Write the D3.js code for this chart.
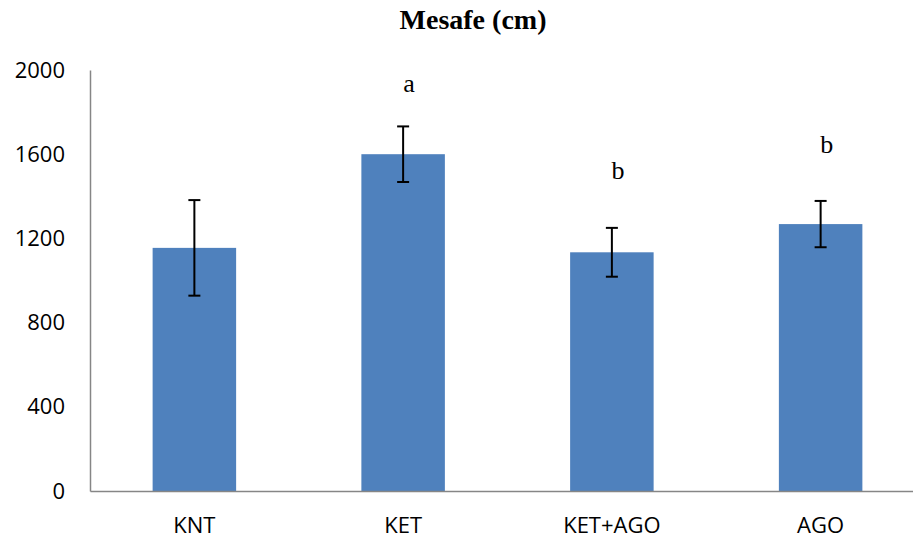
<!DOCTYPE html>
<html>
<head>
<meta charset="utf-8">
<script src="https://cdn.jsdelivr.net/npm/d3@7"></script>
<style>
  body { margin: 0; background: #fff; }
  svg { display: block; }
</style>
</head>
<body>
<div id="chart"></div>
<script>
var categories = ["KNT", "KET", "KET+AGO", "AGO"];
var means = [1155, 1600, 1134, 1268];
var errors = [227, 132, 116, 110];
var letters = ["", "a", "b", "b"];
var letterAt = [null, 1897, 1481, 1604];
var yTicks = [0, 400, 800, 1200, 1600, 2000];

var width = 913,
  height = 540;

var svg = d3.select("#chart").append("svg")
  .attr("width", width)
  .attr("height", height);

var x = d3.scaleBand()
  .domain(categories)
  .range([90, 925])
  .paddingInner(0.6)
  .paddingOuter(0.3);

var y = d3.scaleLinear()
  .domain([0, 2000])
  .range([491, 70]);

var data = categories.map(function(c, i) {
  return {name: c, mean: means[i], err: errors[i], letter: letters[i], at: letterAt[i]};
});

// title
svg.append("text")
  .attr("x", 473)
  .attr("y", 29)
  .attr("text-anchor", "middle")
  .style("font-family", "'Liberation Serif', 'Times New Roman', serif")
  .style("font-weight", "bold")
  .style("font-size", "28px")
  .text("Mesafe (cm)");

// bars
svg.selectAll("rect.bar")
  .data(data)
  .enter()
  .append("rect")
  .attr("class", "bar")
  .attr("x", function(d) { return x(d.name); })
  .attr("y", function(d) { return y(d.mean); })
  .attr("width", x.bandwidth())
  .attr("height", function(d) { return y(0) - y(d.mean); })
  .style("fill", "#4f81bd");

// axes
var yAxis = d3.axisLeft(y).tickValues(yTicks).tickFormat(d3.format("d")).tickSize(0).tickPadding(25);
var gy = svg.append("g").attr("transform", "translate(90,0)").call(yAxis);
gy.select(".domain").attr("stroke", "#868686").attr("stroke-width", 1.5);
gy.selectAll("text")
  .style("font-family", "'Open Sans', sans-serif")
  .style("font-size", "22px")
  .attr("fill", "#000");

var xAxis = d3.axisBottom(x).tickSize(0).tickPadding(26);
var gx = svg.append("g").attr("transform", "translate(0,491)").call(xAxis);
gx.select(".domain").attr("stroke", "#868686").attr("stroke-width", 1.5);
gx.selectAll("text")
  .style("font-family", "'Open Sans', sans-serif")
  .style("font-size", "22px")
  .attr("fill", "#000");

// error bars
var eb = svg.selectAll("g.err")
  .data(data)
  .enter()
  .append("g")
  .attr("class", "err")
  .attr("stroke", "#000")
  .attr("stroke-width", 2);

eb.append("line")
  .attr("x1", function(d) { return x(d.name) + x.bandwidth() / 2; })
  .attr("x2", function(d) { return x(d.name) + x.bandwidth() / 2; })
  .attr("y1", function(d) { return y(d.mean + d.err); })
  .attr("y2", function(d) { return y(d.mean - d.err); });

[1, -1].forEach(function(s) {
  eb.append("line")
    .attr("x1", function(d) { return x(d.name) + x.bandwidth() / 2 - 6; })
    .attr("x2", function(d) { return x(d.name) + x.bandwidth() / 2 + 6; })
    .attr("y1", function(d) { return y(d.mean + s * d.err); })
    .attr("y2", function(d) { return y(d.mean + s * d.err); });
});

// significance letters
svg.selectAll("text.letter")
  .data(data.filter(function(d) { return d.letter; }))
  .enter()
  .append("text")
  .attr("class", "letter")
  .attr("x", function(d) { return x(d.name) + x.bandwidth() / 2 + 6; })
  .attr("y", function(d) { return y(d.at); })
  .attr("text-anchor", "middle")
  .style("font-family", "'Liberation Serif', 'Times New Roman', serif")
  .style("font-size", "26px")
  .text(function(d) { return d.letter; });
</script>
</body>
</html>
